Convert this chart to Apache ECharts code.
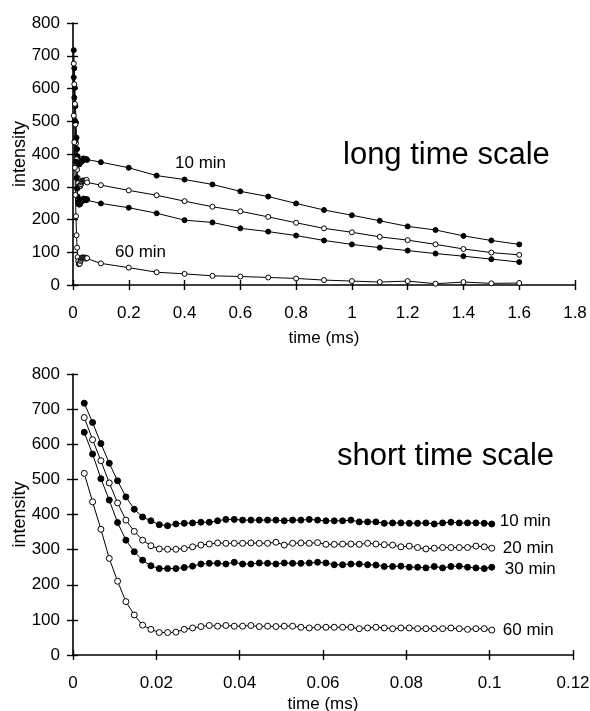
<!DOCTYPE html>
<html>
<head>
<meta charset="utf-8">
<script src="https://cdn.jsdelivr.net/npm/echarts@6/dist/echarts.min.js"></script>
<style>
html,body{margin:0;padding:0;background:#fff;}
#chart{width:590px;height:711px;}
</style>
</head>
<body>
<div id="chart"></div>
<script>
// ---- data ----
var shortTime = [0.0027,0.0047,0.0067,0.0087,0.0107,0.0127,0.0147,0.0167,0.0187,0.0207,
  0.0227,0.0247,0.0267,0.0287,0.0307,0.0327,0.0347,0.0367,0.0387,0.0407,
  0.0427,0.0447,0.0467,0.0487,0.0507,0.0527,0.0547,0.0567,0.0587,0.0607,
  0.0627,0.0647,0.0667,0.0687,0.0707,0.0727,0.0747,0.0767,0.0787,0.0807,
  0.0827,0.0847,0.0867,0.0887,0.0907,0.0927,0.0947,0.0967,0.0987,0.1005];
var short10 = [717,662,602,546,496,450,415,393,382,371,368,373,
  375,376,378,378,382,386,386,384,384,384,384,384,382,
  384,384,386,384,382,382,382,384,379,379,379,375,376,
  376,375,375,376,373,376,378,376,376,376,375,373];
var short20 = [676,613,553,490,433,384,352,327,311,302,301,301,
  303,308,313,316,319,318,318,318,319,318,318,321,313,
  318,319,318,320,315,315,316,316,315,318,316,314,313,
  308,310,306,302,304,306,306,306,306,310,308,304];
var short30 = [634,572,502,441,377,327,294,270,254,246,246,246,
  249,253,259,261,261,259,264,259,259,262,261,259,262,
  261,261,262,264,262,257,257,259,259,257,256,252,252,
  253,250,250,248,252,248,252,253,250,248,246,250];
var short60 = [517,436,358,275,210,152,114,85,73,64,64,65,
  73,77,81,84,82,84,82,82,84,81,82,81,82,
  82,79,77,79,79,79,79,79,75,77,79,77,75,
  77,77,75,75,75,75,77,75,73,75,75,71];

var longTime = [0.1,0.2,0.3,0.4,0.5,0.6,0.7,0.8,0.9,1.0,1.1,1.2,1.3,1.4,1.5,1.6];
var long10 = [375,358,334,322,307,286,270,249,229,213,196,179,168,150,136,124];
var long20 = [305,289,274,256,239,225,208,190,173,161,147,137,124,110,99,92];
var long30 = [249,236,219,198,191,173,163,151,136,124,114,105,96,88,79,70];
var long60 = [66,53,39,34,28,26,23,20,15,12,9,12,4,9,5,6];

var seriesNames = ['10 min','20 min','30 min','60 min'];
var filled = [true,false,true,false];
var topXTicks = ['0','0.2','0.4','0.6','0.8','1','1.2','1.4','1.6','1.8'];
var botXTicks = ['0','0.02','0.04','0.06','0.08','0.1','0.12'];
var yTicks = ['0','100','200','300','400','500','600','700','800'];
var topCutoff = 0.052; // short-scale points shown on the long-time panel

// ---- build ----
var FONT = 'Liberation Sans, Arial, sans-serif';
var shortSets = [short10, short20, short30, short60];
var longSets = [long10, long20, long30, long60];

function pairs(xs, ys){ return xs.map(function(x,i){ return [x, ys[i]]; }); }

var axisLine = {show:true, onZero:false, lineStyle:{color:'#000', width:1.6}};
var hiddenLine = {show:true, onZero:false, lineStyle:{color:'rgba(0,0,0,0)', width:0}};
function mainX(grid, max, interval, labels, nameGap){
  return {type:'value', gridIndex:grid, min:0, max:max, interval:interval, position:'bottom', offset:0,
    axisLine:axisLine, splitLine:{show:false},
    axisTick:{show:true, inside:false, length:5, lineStyle:{color:'#000', width:1.4}},
    axisLabel:{show:true, margin:20, color:'#000', fontSize:17, fontFamily:FONT,
      formatter:function(v){ return labels[Math.round(v/interval)]; }},
    name:'time (ms)', nameLocation:'middle', nameGap:nameGap, nameMoveOverlap:false,
    nameTextStyle:{color:'#000', fontSize:17, fontFamily:FONT}};
}
function innerX(grid, max, interval){
  return {type:'value', gridIndex:grid, min:0, max:max, interval:interval, position:'bottom', offset:0,
    axisLine:hiddenLine, splitLine:{show:false}, axisLabel:{show:false},
    axisTick:{show:true, inside:true, length:5, lineStyle:{color:'#000', width:1.4}}};
}
function mainY(grid, nameGap){
  return {type:'value', gridIndex:grid, min:0, max:800, interval:100, position:'left', offset:0,
    axisLine:axisLine, splitLine:{show:false},
    axisTick:{show:true, inside:false, length:6, lineStyle:{color:'#000', width:1.4}},
    axisLabel:{show:true, margin:13, color:'#000', fontSize:17, fontFamily:FONT,
      formatter:function(v){ return yTicks[Math.round(v/100)]; }},
    name:'intensity', nameLocation:'middle', nameGap:nameGap, nameMoveOverlap:false,
    nameTextStyle:{color:'#000', fontSize:18, fontFamily:FONT}};
}
function innerY(grid){
  return {type:'value', gridIndex:grid, min:0, max:800, interval:100, position:'left', offset:0,
    axisLine:hiddenLine, splitLine:{show:false}, axisLabel:{show:false},
    axisTick:{show:true, inside:true, length:5, lineStyle:{color:'#000', width:1.4}}};
}

var series = [];
for (var s=0; s<4; s++){
  var st = [], sv = [];
  for (var i=0;i<shortTime.length;i++){ if (shortTime[i] <= topCutoff){ st.push(shortTime[i]); sv.push(shortSets[s][i]); } }
  var itemStyle = filled[s] ? {color:'#000', borderColor:'#000', borderWidth:1}
                            : {color:'#fff', borderColor:'#000', borderWidth:1};
  series.push({type:'line', name:seriesNames[s]+' long', xAxisIndex:0, yAxisIndex:0,
    data: pairs(st.concat(longTime), sv.concat(longSets[s])),
    symbol:'circle', symbolSize:5, itemStyle:itemStyle,
    lineStyle:{color:'#000', width:1}, animation:false, silent:true});
  var offs = [[2,-3],[5,0],[7,2],[5,0]];
  series.push({type:'line', name:seriesNames[s], xAxisIndex:2, yAxisIndex:2,
    data: pairs(shortTime, shortSets[s]),
    symbol:'circle', symbolSize:6, itemStyle:itemStyle,
    lineStyle:{color:'#000', width:1}, animation:false, silent:true,
    endLabel:{show:true, formatter:seriesNames[s], color:'#000', fontSize:17, fontFamily:FONT,
      distance:6, offset:offs[s]}});
}

var option = {
  backgroundColor:'#fff',
  animation:false,
  grid:[
    {left:73, top:23, width:502, height:262, containLabel:false, outerBoundsMode:'none'},
    {left:73, top:374, width:500, height:281, containLabel:false, outerBoundsMode:'none'}
  ],
  xAxis:[ mainX(0,1.8,0.2,topXTicks,45), innerX(0,1.8,0.2),
          mainX(1,0.12,0.02,botXTicks,41), innerX(1,0.12,0.02) ],
  yAxis:[ mainY(0,44), innerY(0), mainY(1,44), innerY(1) ],
  graphic:[
    {type:'text', left:343, top:140, style:{text:'long time scale', fill:'#000', font:'31px '+FONT}},
    {type:'text', left:337, top:441, style:{text:'short time scale', fill:'#000', font:'31px '+FONT}},
    {type:'text', left:175, top:155, style:{text:'10 min', fill:'#000', font:'17px '+FONT}},
    {type:'text', left:115, top:244, style:{text:'60 min', fill:'#000', font:'17px '+FONT}}
  ],
  series:series
};
var chart = echarts.init(document.getElementById('chart'), null, {renderer:'canvas'});
chart.setOption(option);
</script>
</body>
</html>
